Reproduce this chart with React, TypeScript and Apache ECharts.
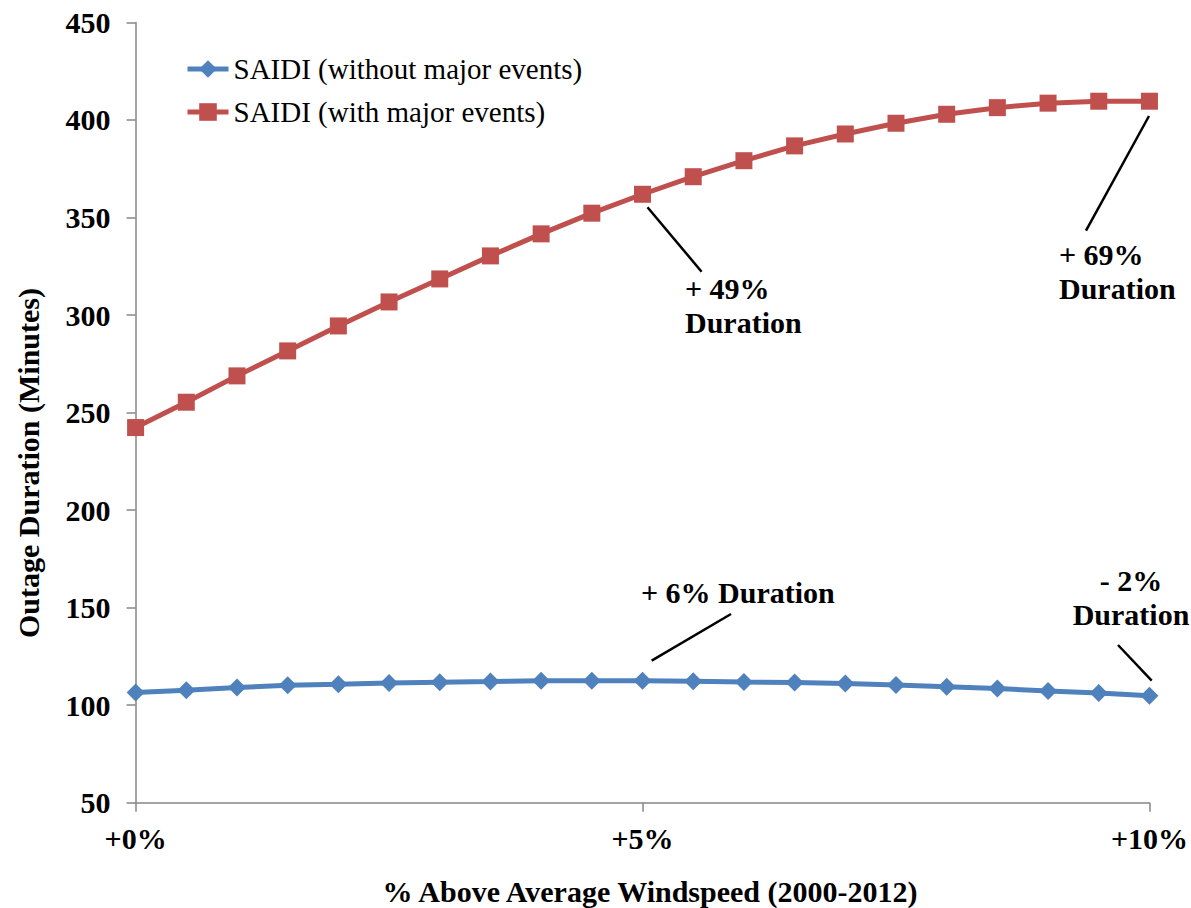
import React, { useEffect, useRef } from "react";
import * as echarts from "echarts";

const windspeed = [0, 0.5, 1, 1.5, 2, 2.5, 3, 3.5, 4, 4.5, 5, 5.5, 6, 6.5, 7, 7.5, 8, 8.5, 9, 9.5, 10];
const saidiWithout = [106.5, 107.7, 109.0, 110.2, 110.7, 111.3, 111.8, 112.1, 112.5, 112.5, 112.5, 112.3, 111.9, 111.6, 111.1, 110.3, 109.5, 108.5, 107.2, 106.2, 104.8];
const saidiWith = [242.3, 255.3, 268.8, 281.6, 294.4, 306.7, 318.5, 330.3, 341.6, 352.2, 361.9, 370.9, 379.1, 386.7, 392.8, 398.3, 402.9, 406.3, 408.6, 409.6, 409.6];
const seriesNames = ["SAIDI (without major events)", "SAIDI (with major events)"];
const xTitle = "% Above Average Windspeed (2000-2012)";
const yTitle = "Outage Duration (Minutes)";
const annotations = [
  { text: "+ 49%\nDuration", x: 685, y: 271, align: "left" },
  { text: "+ 69%\nDuration", x: 1059, y: 237, align: "left" },
  { text: "+ 6% Duration", x: 641, y: 575, align: "left" },
  { text: "- 2%\nDuration", x: 1131, y: 563, align: "center" },
];
const leaderLines = [
  [647.5, 207.3, 701.6, 271.7],
  [1149, 116, 1086, 230.7],
  [651.7, 660.7, 731, 614],
  [1118, 645, 1151.7, 680.7],
];

const FONT = "'Liberation Serif', 'Times New Roman', serif";
const FS = 30;

export default function App() {
  const ref = useRef<HTMLDivElement>(null);
  useEffect(() => {
    if (!ref.current) return;
    document.body.style.margin = "0";
    document.body.style.overflow = "hidden";
    const chart = echarts.init(ref.current, null, { renderer: "svg", width: 1191, height: 908 });
    const axisColor = "#868686";
    const colors = ["#4F81BD", "#C0504D"];
    const boldText = { fill: "#000", fontFamily: FONT, fontSize: FS, fontWeight: "bold" };
    chart.setOption({
      animation: false,
      backgroundColor: "#ffffff",
      textStyle: { fontFamily: FONT },
      grid: { left: 135.6, right: 38, top: 22.4, bottom: 105.3, containLabel: false },
      legend: {
        orient: "vertical",
        left: 180,
        top: 49,
        itemWidth: 41,
        itemHeight: 22,
        itemGap: 13,
        data: seriesNames.map((n, i) => ({
          name: n,
          lineStyle: { width: 5, color: colors[i] },
        })),
        textStyle: { fontFamily: FONT, fontSize: 29, color: "#000", lineHeight: 30 },
      },
      xAxis: {
        type: "value",
        min: 0,
        max: 10,
        interval: 5,
        axisLine: { lineStyle: { color: axisColor, width: 1.5 } },
        axisTick: { show: true, length: 9, lineStyle: { color: axisColor, width: 1.5 } },
        axisLabel: {
          margin: 21,
          fontFamily: FONT,
          fontSize: FS,
          fontWeight: "bold",
          color: "#000",
          formatter: (v: number) => "+" + v + "%",
        },
        splitLine: { show: false },
      },
      yAxis: {
        type: "value",
        min: 50,
        max: 450,
        interval: 50,
        axisLine: { show: true, lineStyle: { color: axisColor, width: 1.5 } },
        axisTick: { show: true, length: 9, lineStyle: { color: axisColor, width: 1.5 } },
        axisLabel: { margin: 25, fontFamily: FONT, fontSize: FS, fontWeight: "bold", color: "#000" },
        splitLine: { show: false },
      },
      series: [
        {
          name: seriesNames[0],
          type: "line",
          data: windspeed.map((x, i) => [x, saidiWithout[i]]),
          symbol: "diamond",
          symbolSize: 18,
          lineStyle: { color: colors[0], width: 5 },
          itemStyle: { color: colors[0] },
        },
        {
          name: seriesNames[1],
          type: "line",
          data: windspeed.map((x, i) => [x, saidiWith[i]]),
          symbol: "rect",
          symbolSize: 17,
          lineStyle: { color: colors[1], width: 5 },
          itemStyle: { color: colors[1] },
        },
      ],
      graphic: [
        {
          type: "text",
          x: 650,
          y: 891,
          style: { ...boldText, text: xTitle, align: "center", verticalAlign: "middle" },
        },
        {
          type: "text",
          x: 28,
          y: 463,
          rotation: Math.PI / 2,
          style: { ...boldText, text: yTitle, align: "center", verticalAlign: "middle" },
        },
        ...leaderLines.map((l) => ({
          type: "line",
          shape: { x1: l[0], y1: l[1], x2: l[2], y2: l[3] },
          style: { stroke: "#000", lineWidth: 2.5 },
          z: 10,
        })),
        ...annotations.map((a) => ({
          type: "text",
          x: a.x,
          y: a.y,
          z: 10,
          style: { ...boldText, text: a.text, lineHeight: 34, align: a.align, verticalAlign: "top" },
        })),
      ],
    });
    return () => chart.dispose();
  }, []);
  return <div ref={ref} style={{ width: 1191, height: 908 }} />;
}
